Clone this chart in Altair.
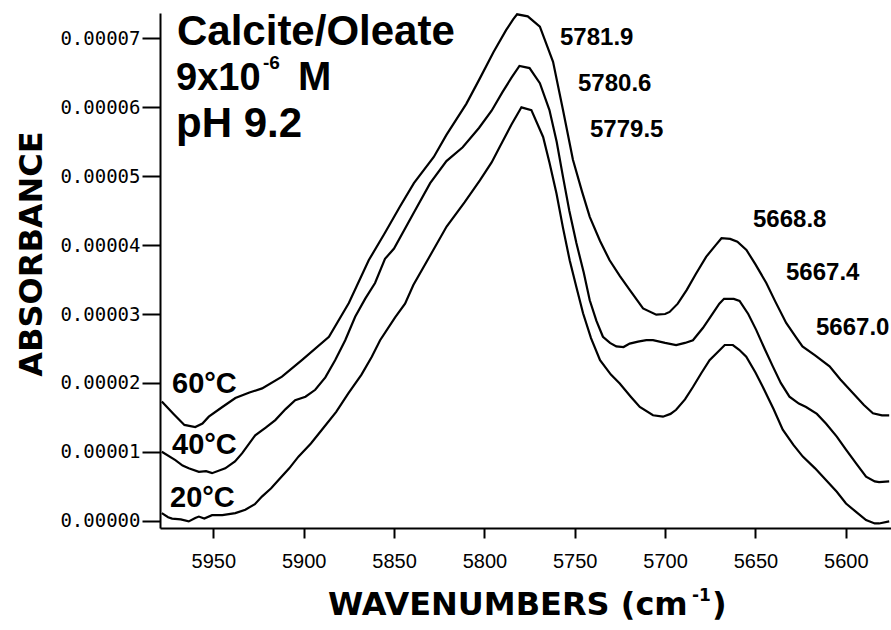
import altair as alt
import pandas as pd

# Absorbance values are given in units of 1e-5 (the axis labels convert back).
wn_60 = [5978.5, 5972, 5966, 5960, 5956, 5952.5, 5945, 5937.8, 5930, 5923, 5912, 5901, 5886, 5875,
         5864, 5855, 5846.7, 5839, 5828, 5821, 5810, 5802.5, 5795, 5788, 5784, 5781.9, 5776, 5769.3,
         5762, 5756.5, 5751, 5746, 5741.7, 5736, 5730.7, 5725, 5719.6, 5712.2, 5704.9, 5700, 5697.5,
         5693, 5688, 5683, 5677.3, 5672, 5668.8, 5664, 5660, 5655, 5650, 5644, 5639, 5633, 5628,
         5624, 5617, 5609, 5603, 5596, 5590, 5585, 5580, 5576]
ab_60 = [1.73, 1.55, 1.39, 1.36, 1.41, 1.51, 1.65, 1.78, 1.86, 1.92, 2.09, 2.33, 2.67, 3.16,
         3.78, 4.18, 4.56, 4.90, 5.28, 5.60, 6.05, 6.42, 6.80, 7.12, 7.28, 7.35, 7.32, 7.17,
         6.66, 5.96, 5.24, 4.78, 4.41, 4.06, 3.78, 3.55, 3.35, 3.08, 2.99, 3.00, 3.03,
         3.15, 3.35, 3.58, 3.83, 4.00, 4.10, 4.09, 4.05, 3.93, 3.72, 3.45, 3.18, 2.87, 2.68,
         2.53, 2.40, 2.24, 2.05, 1.85, 1.68, 1.56, 1.53, 1.53]

wn_40 = [5978.5, 5971, 5967, 5963.6, 5958, 5954, 5950.7, 5943.4, 5938, 5934, 5926.8, 5921, 5915.7,
         5910, 5904.7, 5899, 5893.6, 5888, 5882.6, 5877, 5871.5, 5866, 5860.5, 5855, 5850, 5839.3,
         5830, 5821, 5812, 5803, 5796, 5790, 5785, 5780.6, 5775, 5769.3, 5764, 5760, 5756.5, 5753,
         5749.1, 5745, 5741.7, 5738, 5734.4, 5730.5, 5727, 5723, 5719.6, 5715, 5710.4, 5706.7, 5700,
         5693.9, 5689, 5684.6, 5679, 5673.6, 5670, 5667.4, 5662, 5658.8, 5654, 5649.6, 5645, 5640.4,
         5636, 5631.2, 5626, 5622, 5616, 5611, 5605, 5599.9, 5594, 5588.8, 5584, 5581.6, 5576]
ab_40 = [1.00, 0.88, 0.80, 0.76, 0.71, 0.72, 0.69, 0.76, 0.86, 0.98, 1.24, 1.35, 1.46,
         1.62, 1.75, 1.80, 1.90, 2.08, 2.33, 2.62, 2.96, 3.22, 3.45, 3.80, 3.95, 4.46,
         4.90, 5.22, 5.42, 5.70, 5.95, 6.22, 6.43, 6.60, 6.57, 6.35, 5.96, 5.50, 4.99, 4.50,
         4.03, 3.60, 3.20, 2.90, 2.67, 2.58, 2.53, 2.52, 2.57, 2.60, 2.62, 2.62, 2.58,
         2.55, 2.58, 2.62, 2.80, 3.01, 3.15, 3.22, 3.22, 3.19, 3.00, 2.77, 2.50, 2.24,
         2.00, 1.80, 1.70, 1.65, 1.55, 1.41, 1.22, 1.03, 0.82, 0.64, 0.57, 0.56, 0.57]

wn_20 = [5978.5, 5975, 5972.8, 5968, 5963.6, 5960, 5958, 5955, 5950.7, 5945, 5937.8, 5932.3, 5927,
         5923.1, 5918, 5913.9, 5908, 5902.9, 5896, 5889.9, 5882, 5875.2, 5868, 5862.3, 5857.7,
         5849.4, 5843.9, 5839.3, 5830, 5820.9, 5811, 5802.5, 5796, 5791.4, 5785, 5779.5, 5774,
         5767.5, 5764, 5760.1, 5756.5, 5752.8, 5749, 5745.4, 5741, 5736, 5730, 5725.1, 5719, 5714,
         5706.7, 5701.2, 5697, 5693.9, 5689, 5684.6, 5680, 5675.4, 5670, 5667.0, 5662.5, 5659,
         5655.1, 5650, 5645.9, 5640, 5634.9, 5629, 5623.8, 5617, 5611, 5605, 5599.9, 5594, 5588.8,
         5584, 5581.6, 5576]
ab_20 = [0.11, 0.05, 0.03, 0.02, -0.01, 0.04, 0.06, 0.03, 0.08, 0.08, 0.11, 0.16, 0.24,
         0.35, 0.47, 0.59, 0.76, 0.93, 1.12, 1.32, 1.58, 1.85, 2.12, 2.38, 2.62,
         2.95, 3.15, 3.42, 3.85, 4.27, 4.62, 4.94, 5.20, 5.43, 5.75, 6.00, 5.96,
         5.57, 5.20, 4.75, 4.25, 3.78, 3.38, 3.01, 2.65, 2.33, 2.12, 1.99, 1.80, 1.65,
         1.53, 1.51, 1.55, 1.61, 1.76, 1.94, 2.14, 2.33, 2.47, 2.55, 2.55, 2.48,
         2.38, 2.15, 1.94, 1.62, 1.32, 1.10, 0.93, 0.76, 0.59, 0.42, 0.25, 0.12, 0.01,
         -0.04, -0.04, -0.01]

temperatures = ["60°C", "40°C", "20°C"]
peak_labels = ["5781.9", "5780.6", "5779.5", "5668.8", "5667.4", "5667.0"]
x_ticks = [5600, 5650, 5700, 5750, 5800, 5850, 5900, 5950]
y_ticks = [0, 1, 2, 3, 4, 5, 6, 7]

frames = []
for name, wn, ab in zip(temperatures, [wn_60, wn_40, wn_20], [ab_60, ab_40, ab_20]):
    frames.append(pd.DataFrame({"wavenumber": wn, "absorbance": ab, "temperature": name}))
spectra = pd.concat(frames, ignore_index=True)

W, H = 731, 515
BOLD = "Liberation Sans"
WIDE = "DejaVu Sans"

lines = alt.Chart(spectra).mark_line(color="black", strokeWidth=2.2).encode(
    x=alt.X(
        "wavenumber:Q",
        scale=alt.Scale(domain=[5575, 5979.5], reverse=True, nice=False, zero=False),
        axis=alt.Axis(
            values=x_ticks, format="d", title=None,
            labelFont="Liberation Sans", labelFontSize=20,
            tickSize=10, labelPadding=13, labelFlush=False,
        ),
    ),
    y=alt.Y(
        "absorbance:Q",
        scale=alt.Scale(domain=[-0.106, 7.369], nice=False, zero=False),
        axis=alt.Axis(
            values=y_ticks, title=None,
            labelExpr="format(datum.value / 100000, '.5f')",
            labelFont="DejaVu Sans Mono", labelFontSize=19,
            tickSize=18, labelPadding=2,
        ),
    ),
    detail="temperature:N",
)


def text(label, x, y, size, font=BOLD, weight="bold", angle=None, align="left"):
    opts = dict(align=align, baseline="alphabetic", font=font, fontSize=size,
                fontWeight=weight, color="black")
    if angle is not None:
        opts["angle"] = angle
    return alt.Chart(pd.DataFrame({"label": [label]})).mark_text(**opts).encode(
        x=alt.value(x), y=alt.value(y), text="label:N"
    )


layers = [lines]

# Sample description block
layers += [
    text("Calcite/Oleate", 17, 32, 42),
    text("9x10", 16, 77, 38),
    text("-6", 103, 56, 19),
    text("M", 138, 77, 40),
    text("pH 9.2", 16, 124, 42),
]

# Temperature labels beside each curve
for label, (x, y) in zip(temperatures, [(12, 380), (12, 441), (10, 494)]):
    layers.append(text(label, x, y, 29))

# Peak positions
peak_xy = [(400, 32), (418, 78), (430, 124), (593, 214), (626, 267), (656, 322)]
for label, (x, y) in zip(peak_labels, peak_xy):
    layers.append(text(label, x, y, 24))

# Axis titles
layers += [
    text("ABSORBANCE", -118, 241, 32, font=WIDE, angle=270, align="center"),
    text("WAVENUMBERS (cm", 168, 602, 32, font=WIDE),
    text("-1", 532, 588, 17, font=WIDE),
    text(")", 552, 602, 32, font=WIDE),
]

chart = alt.layer(*layers).properties(
    width=W,
    height=H,
    autosize=alt.AutoSizeParams(type="none"),
    padding={"left": 160, "top": 13, "right": 0, "bottom": 102},
    background="white",
).configure_view(
    strokeWidth=0
).configure_axis(
    grid=False,
    domainColor="black",
    domainWidth=2,
    tickColor="black",
    tickWidth=2,
    labelColor="black",
)

chart.save("out.html", embed_options={"renderer": "svg", "actions": False})
